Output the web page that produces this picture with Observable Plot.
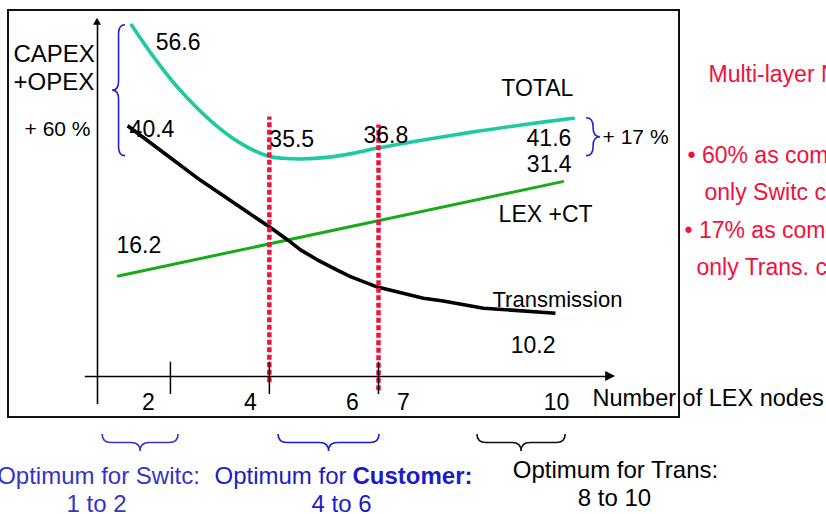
<!DOCTYPE html>
<html>
<head>
<meta charset="utf-8">
<script src="https://cdn.jsdelivr.net/npm/d3@7"></script>
<script src="https://cdn.jsdelivr.net/npm/@observablehq/plot@0.6"></script>
<style>
  html, body { margin: 0; padding: 0; background: #fff; overflow: hidden; }
  #chart { width: 826px; height: 514px; }
</style>
</head>
<body>
<div id="chart"></div>
<script>
// ---- Horizontal axis: number of LEX nodes ----
const tickLabels = [2, 4, 6, 7, 10];
const tickMarks = [2.43, 4.37, 6.51];
// red dashed guides bounding the customer optimum
const guideNodes = [4.37, 6.51];
const guideTop = [41.8, 40.5];
const guideBottom = [-1.0, -2.3];

// ---- TOTAL cost (CAPEX + OPEX) ----
const totalNodes = [1.67, 2.1, 2.57, 3.22, 3.8, 4.35, 4.65, 5.0, 5.5, 6.0, 6.49, 7.27, 8.25, 9.24, 10.33];
const totalCost  = [56.6, 51.5, 46.6, 41.2, 37.6, 35.5, 35.15, 35.05, 35.3, 35.95, 36.8, 37.95, 39.25, 40.45, 41.6];

// ---- Transmission cost ----
const transNodes = [1.59, 2.37, 3.02, 3.94, 4.39, 4.73, 4.98, 5.31, 5.71, 5.96, 6.49, 7.39, 7.75, 8.57, 9.98];
const transCost  = [40.4, 35.6, 31.6, 26.5, 24.0, 22.0, 20.4, 18.8, 17.1, 16.1, 14.4, 12.6, 12.2, 11.0, 10.2];

// ---- LEX + CT cost ----
const lexNodes = [1.41, 10.12];
const lexCost  = [16.2, 31.4];

// ---- Optimum ranges marked under the axis ----
const optimumFrom = [1.10, 4.55, 8.45];
const optimumTo   = [2.59, 6.53, 10.18];

// ---- Texts ----
const yTitle = ["CAPEX", "+OPEX"];
const xTitle = "Number of LEX nodes";
const gainLeft = "+ 60 %";
const gainRight = "+ 17 %";
const sideNotes = ["Multi-layer Network", "• 60% as compared to", "only Switc case", "• 17% as compared to", "only Trans. case"];

// layout
const W = 826, H = 514, ML = 97, MR = 219, MT = 16, MB = 138;
const FONT = "'Liberation Sans', Arial, Helvetica, sans-serif";
const TEAL = "#1fc9a1", GREEN = "#19aa19", RED = "#f2113c", BLUE = "#2323cf";

const series = (xs, ys) => xs.map((x, i) => ({x, y: ys[i]}));
const point = (xs, ys, i) => [{x: xs[i], y: ys[i]}];

// value label attached to a data point
function valueLabel(xs, ys, i, opts) {
  return Plot.text(point(xs, ys, i), {x: "x", y: "y", text: d => d.y.toFixed(1), fontSize: 23,
    lineAnchor: "middle", ...opts});
}
// free annotation placed relative to the page (x, y = anchor point, vertical centre)
function note(text, x, y, opts = {}) {
  return Plot.text([text], {text: d => d, frameAnchor: "top-left", dx: x - ML, dy: y - MT,
    textAnchor: "start", lineAnchor: "middle", fontSize: 23, ...opts});
}

const plot = Plot.plot({
  width: W, height: H,
  marginLeft: ML, marginRight: MR, marginTop: MT, marginBottom: MB,
  x: {domain: [1, 11], axis: null},
  y: {domain: [0, 58], axis: null},
  style: {fontFamily: FONT, fontSize: "23px", background: "white", color: "black", overflow: "hidden"},
  marks: [
    // axes
    Plot.ruleY([0], {x1: 0.76, x2: 10.98, stroke: "black", strokeWidth: 1.3}),
    Plot.ruleX([1], {y1: -4.5, y2: 56.8, stroke: "black", strokeWidth: 1.6}),

    // cost curves
    Plot.line(series(lexNodes, lexCost), {x: "x", y: "y", stroke: GREEN, strokeWidth: 3}),
    Plot.line(series(transNodes, transCost), {x: "x", y: "y", stroke: "black", strokeWidth: 3.6,
      strokeLinejoin: "round", strokeLinecap: "butt"}),
    Plot.line(series(totalNodes, totalCost), {x: "x", y: "y", stroke: TEAL, strokeWidth: 3.6,
      curve: "catmull-rom", strokeLinecap: "round"}),

    // red dashed guides
    Plot.ruleX(guideNodes, {x: d => d, y1: (d, i) => guideBottom[i], y2: (d, i) => guideTop[i],
      stroke: RED, strokeWidth: 4.5, strokeDasharray: "5,2.5"}),
    // axis ticks
    Plot.ruleX(tickMarks, {x: d => d, y1: -2.9, y2: 2.3, stroke: "black", strokeWidth: 1.5}),
    // tick labels
    Plot.text(tickLabels, {x: d => d, text: d => String(d), frameAnchor: "bottom", lineAnchor: "middle",
      dy: 26, fontSize: 23}),

    // value labels
    valueLabel(totalNodes, totalCost, 0, {textAnchor: "start", dx: 24, dy: 17}),
    valueLabel(totalNodes, totalCost, 5, {textAnchor: "start", dx: 1, dy: -17}),
    valueLabel(totalNodes, totalCost, 10, {textAnchor: "start", dx: -14, dy: -12}),
    valueLabel(totalNodes, totalCost, totalNodes.length - 1, {textAnchor: "end", dx: -2, dy: 20}),
    valueLabel(transNodes, transCost, 0, {textAnchor: "start", dx: 2, dy: 4}),
    valueLabel(transNodes, transCost, transNodes.length - 1, {textAnchor: "end", dx: 0, dy: 32}),
    valueLabel(lexNodes, lexCost, 0, {textAnchor: "start", dx: -2, dy: -30}),
    valueLabel(lexNodes, lexCost, 1, {textAnchor: "end", dx: 9, dy: -17}),

    // series names
    Plot.text(point(totalNodes, totalCost, totalNodes.length - 1), {x: "x", y: "y", text: () => "TOTAL",
      textAnchor: "end", lineAnchor: "middle", dy: -30, fontSize: 23}),
    Plot.text(point(lexNodes, lexCost, 1), {x: "x", y: "y", text: () => "LEX +CT",
      textAnchor: "start", lineAnchor: "middle", dx: -64, dy: 33, fontSize: 23}),
    Plot.text(point(transNodes, transCost, transNodes.length - 1), {x: "x", y: "y", text: () => "Transmission",
      textAnchor: "start", lineAnchor: "middle", dx: -63, dy: -13, fontSize: 22}),

    // gain over the optimum on the right
    Plot.text([gainRight], {x: 10.59, y: (totalCost[5] + totalCost[totalCost.length - 1]) / 2,
      text: d => d, textAnchor: "start", lineAnchor: "middle", dx: 16, fontSize: 21}),

    // axis titles and annotations
    note(yTitle[0], 13, 54, {fontSize: 24}),
    note(yTitle[1], 13, 81.5, {fontSize: 24}),
    note(gainLeft, 90, 129, {textAnchor: "end", fontSize: 21}),
    note(xTitle, 592, 397.5, {fontSize: 23.5}),

    note(sideNotes[0], 708, 74.5, {fill: RED}),
    note(sideNotes[1], 687, 155.5, {fill: RED}),
    note(sideNotes[2], 704, 192.5, {fill: RED}),
    note(sideNotes[3], 684, 230.5, {fill: RED}),
    note(sideNotes[4], 696, 267.5, {fill: RED}),

    note("Optimum for Switc:", 98, 475.5, {textAnchor: "middle", fontSize: 24, fill: "#3434cc"}),
    note("1 to 2", 96, 504, {textAnchor: "middle", fontSize: 24, fill: "#3434cc"}),
    note("Optimum for ", 214, 475.5, {fontSize: 24, fill: "#1c1cc6"}),
    note("Customer:", 352, 475.5, {fontSize: 24, fill: "#1c1cc6", fontWeight: "bold"}),
    note("4 to 6", 341, 504, {textAnchor: "middle", fontSize: 24, fill: "#1c1cc6"}),
    note("Optimum for Trans:", 615, 469.5, {textAnchor: "middle", fontSize: 24}),
    note("8 to 10", 614, 497.5, {textAnchor: "middle", fontSize: 24})
  ]
});

document.getElementById("chart").appendChild(plot);

// ---- decorations that use the plot's scales ----
const svgNode = plot.tagName.toLowerCase() === "svg" ? plot : plot.querySelector("svg");
const svg = d3.select(svgNode);
function scaleFn(s) {
  if (typeof s.apply === "function") return v => s.apply(v);
  const [d0, d1] = s.domain, [r0, r1] = s.range;
  return v => r0 + (v - d0) / (d1 - d0) * (r1 - r0);
}
const sx = scaleFn(plot.scale("x"));
const sy = scaleFn(plot.scale("y"));

// slide frame
svg.insert("rect", "g")
  .attr("x", 8).attr("y", 10).attr("width", 671).attr("height", 407)
  .attr("fill", "none").attr("stroke", "#111").attr("stroke-width", 2);

// arrow heads on the axes
const x0 = sy(0);
svg.append("path")
  .attr("d", `M${sx(11.16)},${x0} L${sx(11.16) - 10},${x0 - 5} L${sx(11.16) - 10},${x0 + 5} Z`)
  .attr("fill", "black");
svg.append("path")
  .attr("d", `M${sx(1)},${sy(57.7)} L${sx(1) - 4},${sy(57.7) + 7} L${sx(1) + 4},${sy(57.7) + 7} Z`)
  .attr("fill", "black");

// braces
function vBrace(xe, y0, y1, w) {
  const h = w / 2, m = (y0 + y1) / 2, r = Math.min(9, (y1 - y0) / 4);
  return `M${xe},${y0} Q${xe + h},${y0} ${xe + h},${y0 + r} L${xe + h},${m - r} Q${xe + h},${m} ${xe + w},${m}` +
         ` Q${xe + h},${m} ${xe + h},${m + r} L${xe + h},${y1 - r} Q${xe + h},${y1} ${xe},${y1}`;
}
function hBrace(xa, xb, ye, w) {
  const h = w / 2, m = (xa + xb) / 2, r = Math.min(9, (xb - xa) / 4);
  return `M${xa},${ye} Q${xa},${ye + h} ${xa + r},${ye + h} L${m - r},${ye + h} Q${m},${ye + h} ${m},${ye + w}` +
         ` Q${m},${ye + h} ${m + r},${ye + h} L${xb - r},${ye + h} Q${xb},${ye + h} ${xb},${ye}`;
}
const minTotal = totalCost[5];
svg.append("path").attr("d", vBrace(sx(1.55), sy(totalCost[0]), sy(minTotal), -13))
  .attr("fill", "none").attr("stroke", BLUE).attr("stroke-width", 1.6);
svg.append("path").attr("d", vBrace(sx(10.59), sy(totalCost[totalCost.length - 1]), sy(minTotal), 14))
  .attr("fill", "none").attr("stroke", BLUE).attr("stroke-width", 1.6);

const braceColors = ["#3434cc", "#1c1cc6", "#111"];
optimumFrom.forEach((f, i) => {
  svg.append("path").attr("d", hBrace(sx(f), sx(optimumTo[i]), 434, 17))
    .attr("fill", "none").attr("stroke", braceColors[i]).attr("stroke-width", 1.6);
});
</script>
</body>
</html>
